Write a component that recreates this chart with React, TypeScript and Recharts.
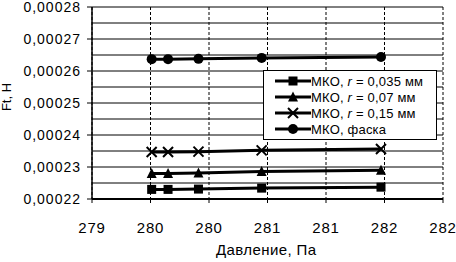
import { LineChart, Line, XAxis, YAxis, CartesianGrid } from 'recharts';

const pressure = [279.51, 279.65, 279.91, 280.45, 281.47];
const r035 = [0.000223, 0.000223, 0.0002231, 0.0002234, 0.0002237];
const r07 = [0.000228, 0.000228, 0.0002281, 0.0002286, 0.000229];
const r15 = [0.0002347, 0.0002347, 0.0002348, 0.0002352, 0.0002356];
const faska = [0.0002637, 0.0002637, 0.0002638, 0.0002641, 0.0002644];

const seriesNames = ['МКО, r = 0,035 мм', 'МКО, r = 0,07 мм', 'МКО, r = 0,15 мм', 'МКО, фаска'];
const xTicks = [279, 279.5, 280, 280.5, 281, 281.5, 282];
// every half step gets a grid line, only whole steps get a label
const yTicks = [
  0.00022, 0.000225, 0.00023, 0.000235, 0.00024, 0.000245, 0.00025, 0.000255, 0.00026, 0.000265,
  0.00027, 0.000275, 0.00028,
];

const data = pressure.map((p, i) => ({ p, a: r035[i], b: r07[i], c: r15[i], d: faska[i] }));

const FONT = 'Arial, "Liberation Sans", sans-serif';
const TICK_SIZE = 5;
const TICK_MARGIN = 6;

const Square = ({ cx, cy }: any) => <rect x={cx - 4.5} y={cy - 4.5} width={9} height={9} fill="#000" />;
const Triangle = ({ cx, cy }: any) => (
  <polygon points={`${cx},${cy - 5.5} ${cx + 5},${cy + 4.5} ${cx - 5},${cy + 4.5}`} fill="#000" />
);
const Cross = ({ cx, cy }: any) => (
  <path d={`M${cx - 5},${cy - 5}L${cx + 5},${cy + 5}M${cx + 5},${cy - 5}L${cx - 5},${cy + 5}`} stroke="#000" strokeWidth={2} />
);
const Circle = ({ cx, cy }: any) => <circle cx={cx} cy={cy} r={5} fill="#000" />;

const markers = [Square, Triangle, Cross, Circle];

const YTick = ({ x, y, payload, index }: any) => {
  if (index % 2 === 1) return <g />;
  const ax = x + TICK_MARGIN + TICK_SIZE;
  return (
    <g>
      <line x1={ax - TICK_SIZE} y1={y} x2={ax} y2={y} stroke="#000" />
      <text
        x={x}
        y={y}
        dy="0.355em"
        textAnchor="end"
        fill="#000"
        fontSize={14}
        fontFamily={FONT}
        letterSpacing={1}
      >
        {Number(payload.value).toFixed(5).replace('.', ',')}
      </text>
    </g>
  );
};

const LegendBox = () => (
  <div
    style={{
      position: 'absolute',
      left: 263,
      top: 70,
      border: '1.5px solid #000',
      background: '#fff',
      width: 172,
      padding: '2px 0',
      fontFamily: FONT,
      fontSize: 13,
      color: '#000',
    }}
  >
    {seriesNames.map((name, i) => {
      const M = markers[i];
      const parts = name.split('r');
      return (
        <div key={name} style={{ display: 'flex', alignItems: 'center', height: 16 }}>
          <svg width={48} height={16} style={{ marginLeft: 9 }}>
            <line x1={2} y1={8} x2={38} y2={8} stroke="#000" strokeWidth={3} />
            <M cx={20} cy={8} />
          </svg>
          <span style={{ marginLeft: -10, whiteSpace: 'nowrap', letterSpacing: 0.2 }}>
            {parts.length > 1 ? (
              <>
                {parts[0]}
                <i>r</i>
                {parts[1]}
              </>
            ) : (
              name
            )}
          </span>
        </div>
      );
    })}
  </div>
);

export default function App() {
  const keys = ['a', 'b', 'c', 'd'];
  return (
    <div style={{ position: 'absolute', left: 0, top: 0, width: 456, height: 262, background: '#fff' }}>
      <LineChart width={456} height={262} data={data} margin={{ top: 7, right: 13, left: 0, bottom: 33 }}>
        <CartesianGrid vertical={false} syncWithTicks stroke="#000" strokeWidth={1} />
        <CartesianGrid horizontal={false} syncWithTicks stroke="#000" strokeWidth={1} strokeDasharray="3 2" />
        <XAxis
          dataKey="p"
          type="number"
          domain={[279, 282]}
          ticks={xTicks}
          interval={0}
          tickFormatter={(v: number) => String(Math.round(v))}
          axisLine={{ stroke: '#000', strokeWidth: 2 }}
          tickLine={{ stroke: '#000' }}
          tickSize={4}
          tickMargin={19}
          height={30}
          tick={{ fill: '#000', fontSize: 15, fontFamily: FONT, letterSpacing: 0.8 }}
          allowDataOverflow
        />
        <YAxis
          type="number"
          domain={[0.00022, 0.00028]}
          ticks={yTicks}
          interval={0}
          axisLine={{ stroke: '#000', strokeWidth: 1.5 }}
          tickLine={false}
          tickSize={TICK_SIZE}
          tickMargin={TICK_MARGIN}
          width={92}
          tick={<YTick />}
          allowDataOverflow
        />
        {keys.map((k, i) => (
          <Line
            key={k}
            dataKey={k}
            name={seriesNames[i]}
            stroke="#000"
            strokeWidth={3}
            dot={markers[i]}
            activeDot={false}
            isAnimationActive={false}
          />
        ))}
      </LineChart>
      <LegendBox />
      <div
        style={{
          position: 'absolute',
          left: 216,
          top: 241,
          fontFamily: FONT,
          fontSize: 15,
          color: '#000',
          whiteSpace: 'nowrap',
          letterSpacing: 0.4,
        }}
      >
        Давление, Па
      </div>
      <div
        style={{
          position: 'absolute',
          left: -12,
          top: 89,
          width: 38,
          height: 16,
          lineHeight: '16px',
          textAlign: 'center',
          transform: 'rotate(-90deg)',
          fontFamily: FONT,
          fontSize: 13,
          color: '#000',
          whiteSpace: 'nowrap',
        }}
      >
        Ft, H
      </div>
    </div>
  );
}
